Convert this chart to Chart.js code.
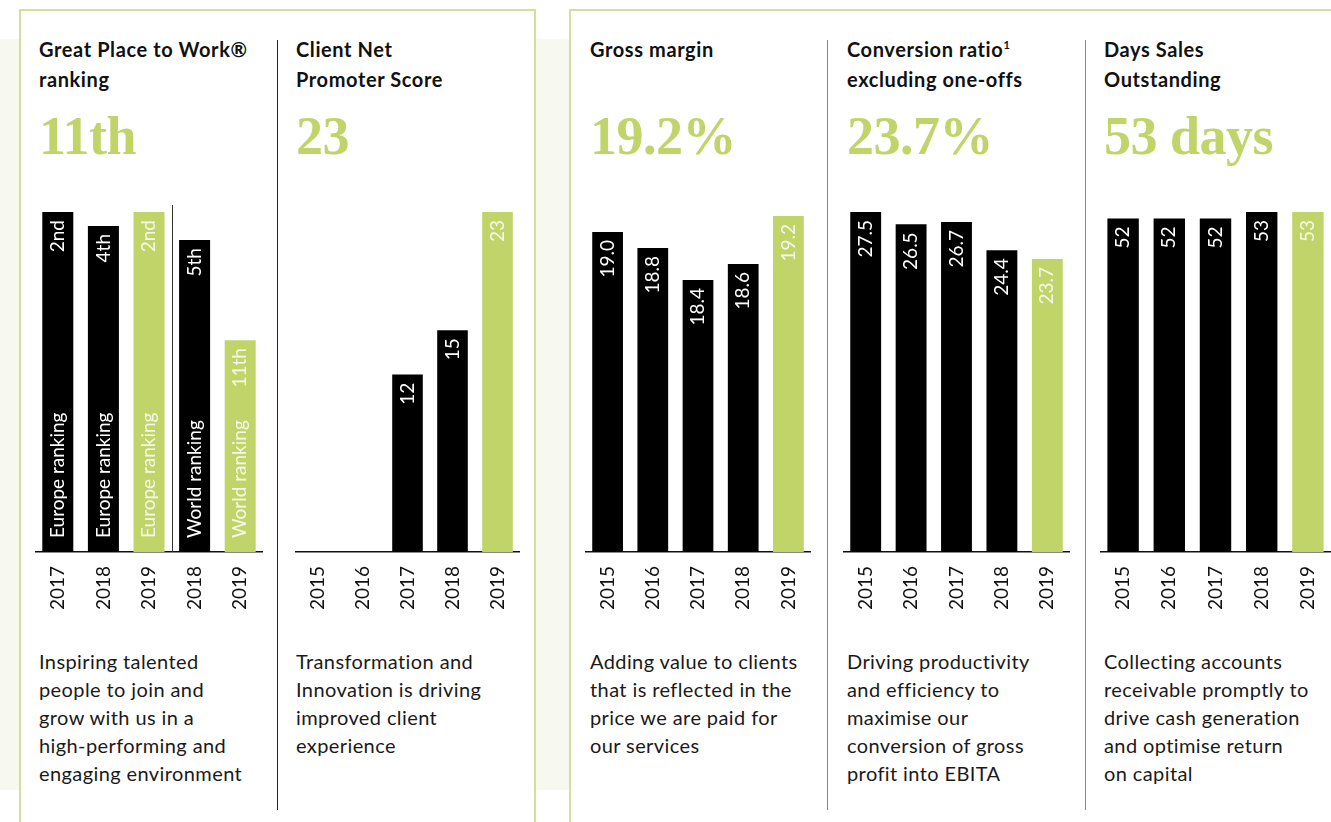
<!DOCTYPE html>
<html lang="en">
  <head>
    <meta charset="UTF-8" />
    <title>KPI panels</title>
    <style>
      body {
        margin: 0;
        width: 1331px;
        height: 822px;
        overflow: hidden;
        position: relative;
        background: #fff;
        font-family: Lato, sans-serif;
        color: #1a1a1a;
      }
      .band {
        position: absolute;
        left: 0;
        top: 39px;
        width: 1331px;
        height: 751px;
        background: #f7f8f0;
      }
      .box {
        position: absolute;
        top: 9px;
        height: 900px;
        border: 2px solid #d3e09b;
        background: #fff;
        box-sizing: border-box;
      }
      .rule {
        position: absolute;
        top: 40px;
        height: 770px;
        width: 1px;
      }
      .title {
        position: absolute;
        top: 34px;
        font-weight: 700;
        font-size: 20px;
        letter-spacing: 0.6px;
        line-height: 30px;
        color: #111;
        white-space: nowrap;
      }
      .title sup {
        font-size: 11px;
        vertical-align: 8px;
        line-height: 0;
      }
      .big {
        position: absolute;
        top: 106px;
        font-family: "Liberation Serif", serif;
        font-weight: 700;
        font-size: 54px;
        line-height: 60px;
        color: #c1d46a;
        letter-spacing: -0.5px;
        white-space: nowrap;
      }
      .desc {
        position: absolute;
        top: 647px;
        font-size: 20px;
        letter-spacing: 0.4px;
        line-height: 28px;
        color: #1a1a1a;
        white-space: nowrap;
      }
      .chart {
        position: absolute;
        top: 190px;
      }
    </style>
  </head>
  <body>
    <div class="band"></div>
    <div class="box" style="left: 19px; width: 517px"></div>
    <div class="box" style="left: 569px; width: 900px"></div>
    <div class="rule" style="left: 277px; background: #222"></div>
    <div class="rule" style="left: 827px; background: #888"></div>
    <div class="rule" style="left: 1085px; background: #888"></div>

    <div class="title" style="left: 39px">Great Place to Work®<br />ranking</div>
    <div class="title" style="left: 296px">Client Net<br />Promoter Score</div>
    <div class="title" style="left: 590px">Gross margin</div>
    <div class="title" style="left: 847px">Conversion ratio<sup>1</sup><br />excluding one-offs</div>
    <div class="title" style="left: 1104px">Days Sales<br />Outstanding</div>

    <div class="big" style="left: 39px">11th</div>
    <div class="big" style="left: 296px">23</div>
    <div class="big" style="left: 590px">19.2%</div>
    <div class="big" style="left: 847px">23.7%</div>
    <div class="big" style="left: 1104px">53 days</div>

    <canvas class="chart" id="c1" width="228" height="432" style="left: 35px"></canvas>
    <canvas class="chart" id="c2" width="225" height="432" style="left: 295px"></canvas>
    <canvas class="chart" id="c3" width="226" height="432" style="left: 585px"></canvas>
    <canvas class="chart" id="c4" width="227" height="432" style="left: 843px"></canvas>
    <canvas class="chart" id="c5" width="231" height="432" style="left: 1100px"></canvas>

    <div class="desc" style="left: 39px">Inspiring talented<br />people to join and<br />grow with us in a<br />high-performing and<br />engaging environment</div>
    <div class="desc" style="left: 296px">Transformation and<br />Innovation is driving<br />improved client<br />experience</div>
    <div class="desc" style="left: 590px">Adding value to clients<br />that is reflected in the<br />price we are paid for<br />our services</div>
    <div class="desc" style="left: 847px">Driving productivity<br />and efficiency to<br />maximise our<br />conversion of gross<br />profit into EBITA</div>
    <div class="desc" style="left: 1104px">Collecting accounts<br />receivable promptly to<br />drive cash generation<br />and optimise return<br />on capital</div>

    <script src="https://cdn.jsdelivr.net/npm/chart.js"></script>
    <script>
      // ranking panel
      const rankYears = ["2017", "2018", "2019", "2018", "2019"];
      const europeRank = [2, 4, 2, null, null];
      const worldRank = [null, null, null, 5, 11];

      // other panels share the same years
      const years = ["2015", "2016", "2017", "2018", "2019"];
      const npsScore = [null, null, 12, 15, 23];
      const grossMargin = [19.0, 18.8, 18.4, 18.6, 19.2];
      const conversionRatio = [27.5, 26.5, 26.7, 24.4, 23.7];
      const dsoDays = [52, 52, 52, 53, 53];

      const GREEN = "#c1d46a";
      const BLACK = "#000000";
      const lastGreen = years.map((y, i) => (i === years.length - 1 ? GREEN : BLACK));

      function ordinal(n) {
        const s = { 1: "st", 2: "nd", 3: "rd" };
        return n + (n > 3 && n < 21 ? "th" : s[n % 10] || "th");
      }

      const barText = {
        id: "barText",
        afterDatasetsDraw(chart, args, opts) {
          const ctx = chart.ctx;
          ctx.save();
          ctx.font = "19px Lato";
          ctx.textBaseline = "middle";
          chart.data.datasets.forEach((ds, di) => {
            const meta = chart.getDatasetMeta(di);
            meta.data.forEach((bar, i) => {
              const v = ds.data[i];
              if (v == null) return;
              ctx.fillStyle = bar.options.backgroundColor === GREEN ? "#f5f8e6" : "#fff";
              ctx.save();
              ctx.translate(bar.x, bar.y + 8);
              ctx.rotate(-Math.PI / 2);
              ctx.textAlign = "right";
              ctx.fillText(opts.format(v), 0, 0);
              ctx.restore();
              if (opts.inner) {
                ctx.save();
                ctx.translate(bar.x, bar.base - 14);
                ctx.rotate(-Math.PI / 2);
                ctx.textAlign = "left";
                ctx.fillText(ds.label, 0, 0);
                ctx.restore();
              }
            });
          });
          if (opts.divider != null) {
            const x = chart.scales.x;
            const px = (x.getPixelForValue(opts.divider - 1) + x.getPixelForValue(opts.divider)) / 2;
            ctx.strokeStyle = "#333";
            ctx.lineWidth = 1;
            ctx.beginPath();
            ctx.moveTo(Math.round(px) + 0.5, chart.chartArea.top - 7);
            ctx.lineTo(Math.round(px) + 0.5, chart.chartArea.bottom);
            ctx.stroke();
          }
          ctx.restore();
        },
      };
      Chart.register(barText);

      function xAxis() {
        return {
          grid: { display: false, drawTicks: false },
          border: { display: true, color: "#111", width: 1.5 },
          ticks: {
            autoSkip: false,
            minRotation: 90,
            maxRotation: 90,
            padding: 14,
            color: "#111",
            font: { family: "Lato", size: 19 },
          },
          afterFit(scale) {
            scale.height = 70;
            scale.paddingLeft = 0;
            scale.paddingRight = 0;
          },
        };
      }

      function hiddenY(extra) {
        return Object.assign({ display: false, grid: { display: false } }, extra);
      }

      function makeChart(id, labels, datasets, scales, textOpts) {
        return new Chart(document.getElementById(id), {
          type: "bar",
          data: { labels: labels, datasets: datasets },
          options: {
            responsive: false,
            animation: false,
            devicePixelRatio: 1,
            layout: { padding: { top: 22, left: 0, right: 0, bottom: 0 } },
            datasets: { bar: { categoryPercentage: 1, barPercentage: 0.68, grouped: false } },
            scales: Object.assign({ x: xAxis() }, scales),
            plugins: {
              legend: { display: false },
              tooltip: { enabled: false },
              barText: textOpts,
            },
          },
        });
      }

      // Great Place to Work: smaller rank = taller bar, Europe and World on own scales
      makeChart(
        "c1",
        rankYears,
        [
          {
            label: "Europe ranking",
            data: europeRank,
            yAxisID: "yE",
            base: 50.57,
            backgroundColor: [BLACK, BLACK, GREEN, BLACK, BLACK],
          },
          {
            label: "World ranking",
            data: worldRank,
            yAxisID: "yW",
            base: 23.7,
            backgroundColor: [BLACK, BLACK, BLACK, BLACK, GREEN],
          },
        ],
        {
          yE: hiddenY({ reverse: true, min: 2, max: 50.57 }),
          yW: hiddenY({ reverse: true, min: 3.32, max: 23.7 }),
        },
        { format: ordinal, inner: true, divider: 3 }
      );

      makeChart(
        "c2",
        years,
        [{ label: "Client NPS", data: npsScore, backgroundColor: lastGreen }],
        { y: hiddenY({ min: 0, max: 23 }) },
        { format: (v) => String(v) }
      );

      makeChart(
        "c3",
        years,
        [{ label: "Gross margin", data: grossMargin, backgroundColor: lastGreen }],
        { y: hiddenY({ min: 15, max: 19.25 }) },
        { format: (v) => v.toFixed(1) }
      );

      makeChart(
        "c4",
        years,
        [{ label: "Conversion ratio", data: conversionRatio, backgroundColor: lastGreen }],
        { y: hiddenY({ min: 0, max: 27.5 }) },
        { format: (v) => v.toFixed(1) }
      );

      makeChart(
        "c5",
        years,
        [{ label: "Days Sales Outstanding", data: dsoDays, backgroundColor: lastGreen }],
        { y: hiddenY({ min: 0, max: 53 }) },
        { format: (v) => String(v) }
      );
    </script>
  </body>
</html>
